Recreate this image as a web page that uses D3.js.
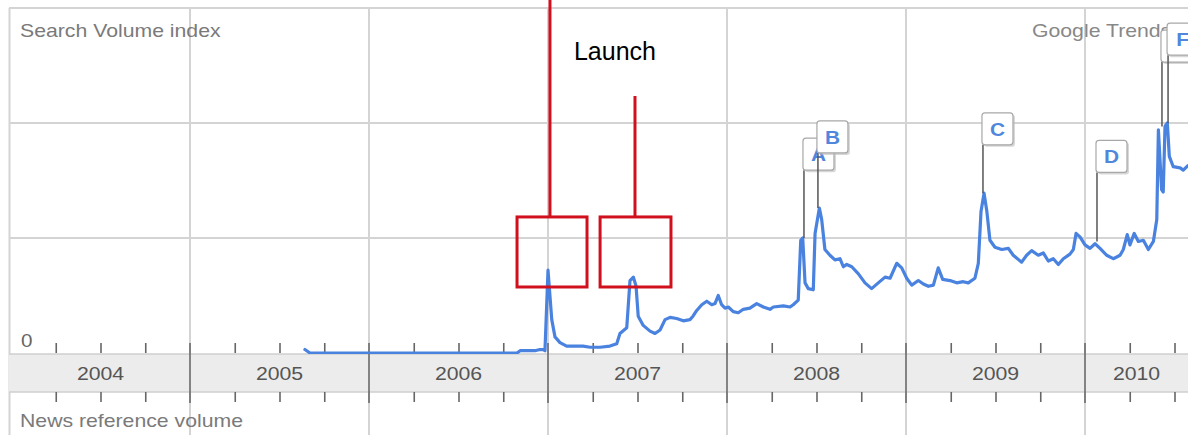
<!DOCTYPE html>
<html>
<head>
<meta charset="utf-8">
<script src="https://cdn.jsdelivr.net/npm/d3@7"></script>
<style>
  html, body { margin: 0; padding: 0; background: #fff; }
  svg { display: block; }
  text { font-family: "Liberation Sans", Arial, sans-serif; }
</style>
</head>
<body>
<svg id="chart" width="1188" height="435"></svg>
<script>
// ---------------- DATA ----------------
const years = [2004, 2005, 2006, 2007, 2008, 2009, 2010];
const yearLabels = ["2004", "2005", "2006", "2007", "2008", "2009", "2010"];

// decimal-year dates of the search volume series
const weekDates = [
  2005.642, 2005.670, 2006.827, 2006.844, 2006.927, 2006.955, 2006.972, 2006.983,
  2007.000, 2007.021, 2007.039, 2007.067, 2007.104, 2007.196, 2007.235, 2007.291,
  2007.346, 2007.384, 2007.402, 2007.440, 2007.458, 2007.477, 2007.492, 2007.504,
  2007.532, 2007.570, 2007.598, 2007.626, 2007.654, 2007.682, 2007.719, 2007.756,
  2007.793, 2007.810, 2007.831, 2007.859, 2007.887, 2007.915, 2007.933, 2007.951, 2007.970, 2007.989,
  2008.007, 2008.035, 2008.063, 2008.091, 2008.128, 2008.166, 2008.203, 2008.240,
  2008.259, 2008.315, 2008.352, 2008.370, 2008.398, 2008.412, 2008.423, 2008.436,
  2008.454, 2008.482, 2008.492, 2008.516, 2008.529, 2008.547, 2008.575, 2008.603,
  2008.631, 2008.650, 2008.669, 2008.697, 2008.733, 2008.771, 2008.808, 2008.845,
  2008.883, 2008.911, 2008.948, 2008.976,
  2009.004, 2009.032, 2009.069, 2009.097, 2009.125, 2009.153, 2009.180, 2009.205,
  2009.246, 2009.283, 2009.320, 2009.348, 2009.385, 2009.404, 2009.419, 2009.436,
  2009.451, 2009.469, 2009.497, 2009.535, 2009.572, 2009.599, 2009.646, 2009.674,
  2009.702, 2009.739, 2009.767, 2009.795, 2009.823, 2009.851, 2009.879, 2009.916,
  2009.935, 2009.950, 2009.972,
  2010.000, 2010.028, 2010.056, 2010.084, 2010.121, 2010.158, 2010.196, 2010.214,
  2010.236, 2010.251, 2010.275, 2010.298, 2010.326, 2010.354, 2010.382, 2010.401,
  2010.410, 2010.428, 2010.437, 2010.447, 2010.460, 2010.471, 2010.493, 2010.531,
  2010.549, 2010.575, 2010.615
];
// search volume index (1 = first gridline)
const searchIndex = [
  0.03, 0, 0, 0.02, 0.02, 0.03, 0.03, 0.02,
  0.72, 0.29, 0.14, 0.09, 0.06, 0.06, 0.05, 0.05,
  0.06, 0.08, 0.17, 0.22, 0.63, 0.66, 0.58, 0.32,
  0.24, 0.19, 0.17, 0.20, 0.29, 0.31, 0.30, 0.28,
  0.29, 0.32, 0.37, 0.42, 0.45, 0.42, 0.43, 0.50, 0.42, 0.39,
  0.40, 0.36, 0.35, 0.38, 0.39, 0.43, 0.40, 0.38,
  0.40, 0.41, 0.40, 0.42, 0.46, 0.98, 1.00, 0.61,
  0.56, 0.55, 1.04, 1.26, 1.16, 0.90, 0.85, 0.81,
  0.82, 0.75, 0.77, 0.75, 0.69, 0.61, 0.56, 0.61,
  0.66, 0.65, 0.78, 0.74,
  0.65, 0.59, 0.63, 0.60, 0.58, 0.59, 0.74, 0.64,
  0.63, 0.61, 0.62, 0.61, 0.65, 0.78, 1.23, 1.39,
  1.24, 0.98, 0.92, 0.90, 0.91, 0.85, 0.79, 0.85,
  0.89, 0.85, 0.87, 0.80, 0.82, 0.77, 0.82, 0.86,
  0.90, 1.04, 1.01,
  0.94, 0.91, 0.95, 0.91, 0.85, 0.82, 0.85, 0.90,
  1.03, 0.94, 1.04, 0.97, 0.98, 0.90, 0.97, 1.16,
  1.94, 1.42, 1.40, 1.97, 2.00, 1.71, 1.62, 1.61,
  1.59, 1.63, 1.62
];

// news event flags
const eventLetters = ["A", "B", "C", "D", "E", "F"];
const eventDates   = [2008.430, 2008.508, 2009.430, 2010.067, 2010.430, 2010.464];
const eventValues  = [1.00, 1.26, 1.39, 0.97, 1.97, 2.00];
const flagLevels   = [1.59, 1.74, 1.81, 1.57, 2.53, 2.59];

// red "Launch" annotation (data units)
const launchBoxes = [
  { t0: 2006.827, t1: 2007.218, v0: 0.574, v1: 1.183 },
  { t0: 2007.291, t1: 2007.687, v0: 0.574, v1: 1.183 }
];
const launchLeaders = [
  { t: 2007.011, vTop: 3.10, vBottom: 1.183 },
  { t: 2007.486, vTop: 2.235, vBottom: 1.183 }
];
const launchLabel = { text: "Launch", t: 2007.374, v: 2.55 };

const gridValues = [1, 2, 3];

// ---------------- CHART ----------------
const W = 1188, H = 435;
const svg = d3.select("#chart");

const x = d3.scaleLinear().domain([2004, 2011]).range([11, 11 + 7 * 179]);
const y = d3.scaleLinear().domain([0, 3]).range([353, 8]);

const bandTop = 354, bandBottom = 392;
const gridColor = "#d4d4d4";
const textColor = "#7a7a7a";
const stretch = 1.18;

// left border
svg.append("line").attr("x1", 9.5).attr("x2", 9.5).attr("y1", y(3)).attr("y2", H)
  .attr("stroke", gridColor).attr("stroke-width", 2);

// horizontal gridlines
svg.append("g").selectAll("line").data(gridValues).join("line")
  .attr("x1", 9).attr("x2", W)
  .attr("y1", d => y(d)).attr("y2", d => y(d))
  .attr("stroke", gridColor).attr("stroke-width", 2);

// vertical year gridlines (full height)
const yearBounds = years.slice(1);
svg.append("g").selectAll("line").data(yearBounds).join("line")
  .attr("x1", d => x(d)).attr("x2", d => x(d))
  .attr("y1", y(3)).attr("y2", H)
  .attr("stroke", gridColor).attr("stroke-width", 2);

// band
svg.append("rect").attr("x", 9).attr("y", bandTop).attr("width", W - 9).attr("height", bandBottom - bandTop)
  .attr("fill", "#ececec");
svg.append("line").attr("x1", 9).attr("x2", W).attr("y1", bandTop).attr("y2", bandTop)
  .attr("stroke", "#cfcfcf").attr("stroke-width", 1.5);
svg.append("line").attr("x1", 9).attr("x2", W).attr("y1", bandBottom).attr("y2", bandBottom)
  .attr("stroke", "#cfcfcf").attr("stroke-width", 1.5);

// quarter ticks via d3 axes
const quarters = [];
for (let yr = 2004; yr <= 2010; yr++) [0.25, 0.5, 0.75].forEach(q => quarters.push(yr + q));

const axTop = svg.append("g").attr("transform", `translate(0,${bandTop - 1})`)
  .call(d3.axisTop(x).tickValues(quarters).tickSize(10).tickFormat(""));
const axBot = svg.append("g").attr("transform", `translate(0,${bandBottom})`)
  .call(d3.axisBottom(x).tickValues(quarters).tickSize(10).tickFormat(""));
[axTop, axBot].forEach(a => {
  a.select(".domain").remove();
  a.selectAll(".tick line").attr("stroke", "#666").attr("stroke-width", 1.6);
});

// year boundary ticks (dark, through band)
svg.append("g").selectAll("line").data(yearBounds).join("line")
  .attr("x1", d => x(d)).attr("x2", d => x(d))
  .attr("y1", bandTop - 11).attr("y2", bandBottom + 11)
  .attr("stroke", "#6a6a6a").attr("stroke-width", 1.6);

// year labels (centered in the visible part of each year)
svg.append("g").selectAll("text").data(years).join("text")
  .attr("transform", d => {
    const cx = (x(d) + Math.min(x(d + 1), W)) / 2;
    return `translate(${cx},${(bandTop + bandBottom) / 2 + 6.5}) scale(${stretch},1)`;
  })
  .attr("text-anchor", "middle")
  .attr("font-size", 18)
  .attr("fill", "#555")
  .text((d, i) => yearLabels[i]);

// text labels
function stretchedText(str, tx, ty, size, color, anchor) {
  return svg.append("text")
    .attr("transform", `translate(${tx},${ty}) scale(${stretch},1)`)
    .attr("font-size", size).attr("fill", color)
    .attr("text-anchor", anchor || "start")
    .text(str);
}
stretchedText("Search Volume index", 20, 37, 18, textColor);
stretchedText("Google Trends", 1032, 37, 18, "#888");
stretchedText("0", 21, 347, 17.5, "#666");
stretchedText("News reference volume", 20, 427, 18, textColor);

// search volume line
const series = weekDates.map((t, i) => ({ t, v: searchIndex[i] }));
svg.append("defs").append("clipPath").attr("id", "plotclip")
  .append("rect").attr("x", 9).attr("y", 0).attr("width", W - 9).attr("height", bandTop);
svg.append("path")
  .datum(series)
  .attr("clip-path", "url(#plotclip)")
  .attr("fill", "none")
  .attr("stroke", "#4a82e0")
  .attr("stroke-width", 3.2)
  .attr("stroke-linejoin", "round")
  .attr("stroke-linecap", "round")
  .attr("d", d3.line().x(d => x(d.t)).y(d => y(d.v)));

// event flags
const flagW = 31, flagH = 32;
const flags = svg.append("g");
eventLetters.forEach((letter, i) => {
  const px = x(eventDates[i]);
  const bottom = y(flagLevels[i]);
  const g = flags.append("g");
  g.append("line").attr("x1", px).attr("x2", px)
    .attr("y1", bottom).attr("y2", y(eventValues[i]))
    .attr("stroke", "#555").attr("stroke-width", 1.5);
  g.append("rect").attr("x", px + 1).attr("y", bottom - flagH + 2)
    .attr("width", flagW).attr("height", flagH).attr("rx", 3)
    .attr("fill", "#bdbdbd").attr("opacity", 0.6);
  g.append("rect").attr("x", px - 1).attr("y", bottom - flagH)
    .attr("width", flagW).attr("height", flagH).attr("rx", 3)
    .attr("fill", "#fff").attr("stroke", "#a8a8a8").attr("stroke-width", 1.2);
  g.append("text")
    .attr("transform", `translate(${px - 1 + flagW / 2},${bottom - flagH / 2 + 7}) scale(1.1,1)`)
    .attr("text-anchor", "middle")
    .attr("font-size", 19)
    .attr("font-weight", "bold")
    .attr("fill", "#5087dc")
    .text(letter);
});

// red launch annotation
const red = "#d0101c";
svg.append("g").selectAll("line").data(launchLeaders).join("line")
  .attr("x1", d => x(d.t)).attr("x2", d => x(d.t))
  .attr("y1", d => y(d.vTop)).attr("y2", d => y(d.vBottom))
  .attr("stroke", red).attr("stroke-width", 3);
svg.append("g").selectAll("rect").data(launchBoxes).join("rect")
  .attr("x", d => x(d.t0)).attr("y", d => y(d.v1))
  .attr("width", d => x(d.t1) - x(d.t0)).attr("height", d => y(d.v0) - y(d.v1))
  .attr("fill", "none").attr("stroke", red).attr("stroke-width", 3);
svg.append("text")
  .attr("x", x(launchLabel.t)).attr("y", y(launchLabel.v))
  .attr("text-anchor", "middle")
  .attr("font-family", "'Open Sans', 'Liberation Sans', sans-serif")
  .attr("font-size", 25)
  .attr("fill", "#000")
  .text(launchLabel.text);
</script>
</body>
</html>
